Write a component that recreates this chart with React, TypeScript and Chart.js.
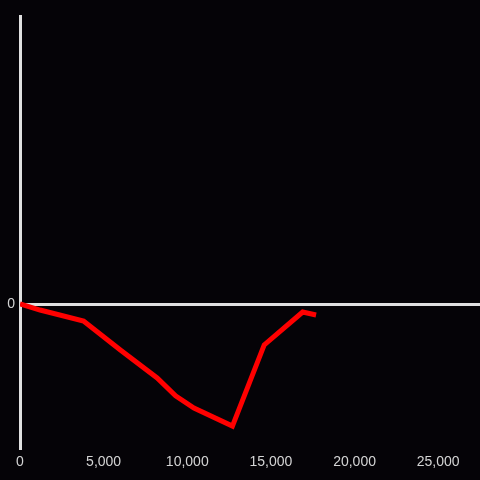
import React, { useEffect, useRef } from "react";
import { Chart, registerables } from "chart.js";

Chart.register(...registerables);

const xValues = [0, 1200, 3800, 6000, 8200, 9300, 10400, 12700, 14600, 16900, 17700];
const yValues = [0, -2.1, -5.9, -16, -25.7, -31.9, -36.1, -42.4, -14.2, -2.8, -3.8];
const xTickValues = [0, 5000, 10000, 15000, 20000, 25000];
const yTickValues = [0];

export default function App() {
  const ref = useRef<HTMLCanvasElement | null>(null);
  useEffect(() => {
    document.body.style.margin = "0";
    document.body.style.background = "#050307";
    const canvas = ref.current;
    if (!canvas) return;
    const chart = new Chart(canvas, {
      type: "line",
      data: {
        datasets: [
          {
            data: xValues.map((x, i) => ({ x, y: yValues[i] })),
            borderColor: "#ff0000",
            borderWidth: 5,
            pointRadius: 0,
            tension: 0,
            fill: false,
          },
        ],
      },
      options: {
        responsive: false,
        animation: false,
        layout: { padding: { top: 16, left: 0, right: 0, bottom: 0 } },
        plugins: { legend: { display: false }, tooltip: { enabled: false } },
        scales: {
          x: {
            type: "linear",
            min: 0,
            max: 27500,
            afterBuildTicks: (scale: any) => {
              scale.ticks = xTickValues.map((v) => ({ value: v }));
            },
            afterFit: (scale: any) => {
              scale.height = 32;
            },
            grid: { display: false, drawTicks: false },
            border: { display: false },
            ticks: {
              color: "#d4d4d4",
              font: { family: "Liberation Sans, Arial, sans-serif", size: 14 },
              padding: 6,
              maxRotation: 0,
              autoSkip: false,
              callback: (v: any) => Number(v).toLocaleString("en-US"),
            },
          },
          y: {
            type: "linear",
            min: -50,
            max: 100,
            afterBuildTicks: (scale: any) => {
              scale.ticks = yTickValues.map((v) => ({ value: v }));
            },
            afterFit: (scale: any) => {
              scale.width = 20;
            },
            grid: {
              drawTicks: false,
              color: (ctx: any) => (ctx.tick && ctx.tick.value === 0 ? "#e0e0e0" : "rgba(0,0,0,0)"),
              lineWidth: 3,
            },
            border: { display: true, color: "#e0e0e0", width: 3 },
            ticks: {
              color: "#d4d4d4",
              font: { family: "Liberation Sans, Arial, sans-serif", size: 14 },
              padding: 5,
              callback: (v: any) => String(v),
            },
          },
        },
      },
    });
    return () => chart.destroy();
  }, []);
  return (
    <canvas
      ref={ref}
      width={480}
      height={480}
      style={{ display: "block", width: 480, height: 480, background: "#050307" }}
    />
  );
}
